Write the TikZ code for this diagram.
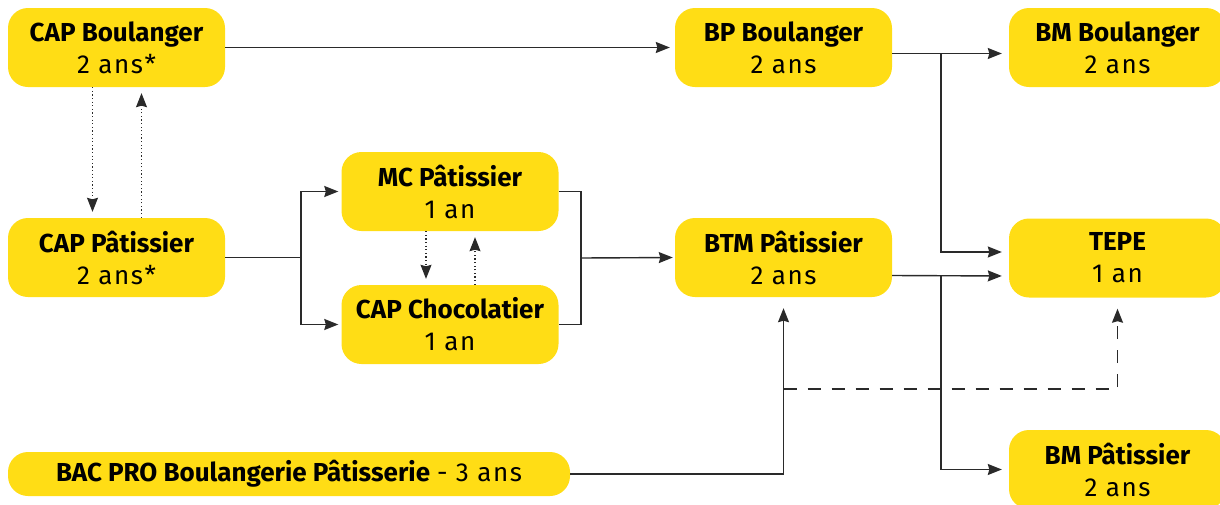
\documentclass[tikz,border=0pt]{standalone}
\usepackage{fontspec}
\setmainfont{Fira Sans}
\usetikzlibrary{arrows.meta,calc}
\definecolor{boxyellow}{HTML}{FFDD15}
\definecolor{linecol}{HTML}{2A2A2A}
\newcommand{\sub}[1]{{\addfontfeature{LetterSpace=6}#1}}
\begin{document}
\begin{tikzpicture}[x=1pt,y=-1pt,
  box/.style={fill=boxyellow, rounded corners=20pt, minimum width=217pt, minimum height=79pt,
    align=center, inner sep=0pt, font=\fontsize{26}{32}\selectfont},
  link/.style={draw=linecol, line width=1.4pt},
  arr/.style={link, -{Stealth[length=14pt,width=11pt,inset=1.5pt]}},
  dotarr/.style={arr, line width=1.1pt, dash pattern=on 1.2pt off 2.4pt},
  dasharr/.style={arr, dash pattern=on 13pt off 11pt}]
\useasboundingbox (0,0) rectangle (1220,504);
\clip (0,0) rectangle (1220,504);

\node[box] (cb)   at (116.5,47.5)  {\textbf{CAP Boulanger}\\\sub{2 ans*}};
\node[box] (cp)   at (116.5,257.5) {\textbf{CAP Pâtissier}\\\sub{2 ans*}};
\node[box] (mc)   at (450,191.5)   {\textbf{MC Pâtissier}\\\sub{1 an}};
\node[box] (ch)   at (450,324.5)   {\textbf{CAP Chocolatier}\\\sub{1 an}};
\node[box] (bp)   at (783.5,47.5)  {\textbf{BP Boulanger}\\\sub{2 ans}};
\node[box] (btm)  at (783.5,257.5) {\textbf{BTM Pâtissier}\\\sub{2 ans}};
\node[box] (bm)   at (1117.5,47.5) {\textbf{BM Boulanger}\\\sub{2 ans}};
\node[box] (tepe) at (1117.5,258)  {\textbf{TEPE}\\\sub{1 an}};
\node[box] (bmp)  at (1117.5,469.5){\textbf{BM Pâtissier}\\\sub{2 ans}};
\node[box, minimum width=562pt, minimum height=44pt] (bac) at (289,474)
  {\textbf{BAC PRO Boulangerie Pâtisserie} \sub{- 3 ans}};

% junction points
\coordinate (j1) at (301,257.5);
\coordinate (j2) at (581,258);
\coordinate (j3) at (941,53);
\coordinate (j4) at (941,276);
\coordinate (j5) at (783.5,389);

% top row
\draw[arr, shorten >=5pt] (cb.east) -- (bp.west);
\draw[arr, shorten >=7pt] ([yshift=-6pt]bp.east) -- ([yshift=-6pt]bm.west);
\draw[arr, shorten >=7pt] (j3) |- ([yshift=6pt]tepe.west);

% CAP Boulanger <-> CAP Patissier
\draw[dotarr, shorten >=6pt] ([xshift=-24pt]cb.south) -- ([xshift=-24pt]cp.north);
\draw[dotarr, shorten >=6pt] ([xshift=25pt]cp.north) -- ([xshift=25pt]cb.south);

% CAP Patissier -> MC / Chocolatier
\draw[link] (cp.east) -- (j1);
\draw[arr, shorten >=3pt] (j1) |- (mc.west);
\draw[arr, shorten >=3pt] (j1) |- (ch.west);

% MC <-> Chocolatier
\draw[dotarr, shorten >=6pt] ([xshift=-24pt]mc.south) -- ([xshift=-24pt]ch.north);
\draw[dotarr, shorten >=6pt] ([xshift=25pt]ch.north) -- ([xshift=25pt]mc.south);

% MC / Chocolatier -> BTM
\draw[link] (mc.east) -| (j2) |- (ch.east);
\draw[arr, shorten >=2pt] (j2) -- (btm.west);

% BTM -> TEPE, BM Patissier
\draw[arr, shorten >=7pt] ([yshift=-18pt]btm.east) -- ([yshift=-18pt]tepe.west);
\draw[arr, shorten >=7pt] (j4) |- (bmp.west);

% BAC PRO -> BTM
\draw[arr, shorten >=11pt] (bac.east) -| (btm.south);
\draw[dasharr, shorten >=11pt] (j5) -| (tepe.south);
\end{tikzpicture}
\end{document}
